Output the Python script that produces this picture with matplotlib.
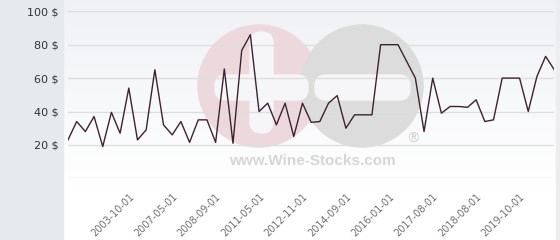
import numpy as np
import matplotlib
matplotlib.use('Agg')
import matplotlib.pyplot as plt
from matplotlib.patches import Circle, FancyBboxPatch, Rectangle

LINE_COLOR = '#3b2330'

prices = [23, 34, 28, 37, 19, 39.5, 27, 54, 23, 29,
          65, 32, 26, 34, 21.5, 35, 35, 21.5, 65.5, 21,
          76.5, 86, 40, 45, 32, 45, 25, 45, 33.5, 34,
          45, 49.5, 30, 38, 38, 38, 80, 80, 80, 70,
          60, 28, 60, 39, 43, 43, 42.5, 47, 34, 35,
          60, 60, 60, 40, 61, 73, 65]
tick_labels = ['2003-10-01', '2007-05-01', '2008-09-01', '2011-05-01',
               '2012-11-01', '2014-09-01', '2016-01-01', '2017-08-01',
               '2018-08-01', '2019-10-01']
tick_index = [7, 12, 17, 22, 27, 32, 37, 42, 47, 52]
y_ticks = [0, 20, 40, 60, 80, 100]


def main():
    W, H = 560, 240
    fig = plt.figure(figsize=(W / 100, H / 100), dpi=100)
    fig.patch.set_facecolor('white')

    # background + watermark, in pixel coordinates
    bg = fig.add_axes([0, 0, 1, 1], zorder=0)
    bg.set_xlim(0, W)
    bg.set_ylim(H, 0)
    bg.axis('off')
    grad = np.linspace(0, 1, 100).reshape(-1, 1)
    top = np.array([0.937, 0.945, 0.960])
    bottom = np.array([1.0, 1.0, 1.0])
    img = top + (bottom - top) * np.clip(grad * 1.3, 0, 1)[:, :, None] * np.ones((1, 1, 3))
    bg.imshow(img, extent=[63, 556, H, 0], aspect='auto', zorder=0)
    bg.add_patch(Rectangle((0, 0), 63, H, color='#e6eaee', zorder=1))
    bg.add_patch(Rectangle((556, 0), 4, H, color='#ededed', zorder=1))

    bg.add_patch(Circle((259, 86), 61, color='#ecd8dd', zorder=2))
    bg.add_patch(Circle((362, 86), 61, color='#dcdcdc', zorder=3))
    bar = dict(boxstyle='round,pad=0,rounding_size=11', color='#f6f6f8', zorder=4)
    bg.add_patch(FancyBboxPatch((250, 32), 23, 101, **bar))
    bg.add_patch(FancyBboxPatch((215, 75), 93, 25, **bar))
    bg.add_patch(FancyBboxPatch((315, 75), 95, 25, **bar))
    bg.text(312, 161, 'www.Wine-Stocks.com', ha='center', va='center',
            fontsize=11, fontweight='bold', family='Liberation Sans',
            color='#d6d6d6', zorder=5)
    bg.text(413, 139, '®', ha='center', va='center', fontsize=10,
            color='#d0d0d0', zorder=5)

    # chart
    left, right = 68, 554.3
    top_px, bot_px = 11.3, 178.3
    ax = fig.add_axes([left / W, 1 - bot_px / H, (right - left) / W,
                       (bot_px - top_px) / H], zorder=2)
    ax.patch.set_alpha(0)
    ax.plot(range(len(prices)), prices, '-', color=LINE_COLOR, lw=1, zorder=3)
    ax.set_xlim(0, len(prices) - 1)
    ax.set_ylim(0, 100)
    ax.set_yticks(y_ticks)
    ax.set_yticklabels(['' if v == 0 else f'{v} $' for v in y_ticks])
    ax.grid(axis='y', color='#dedede', lw=1)
    ax.set_axisbelow(True)
    ax.set_xticks(tick_index)
    ax.set_xticklabels(tick_labels, rotation=45, ha='right',
                       rotation_mode='anchor')
    ax.tick_params(axis='y', length=0, pad=6.5, labelsize=8,
                   labelcolor='#333333')
    ax.tick_params(axis='x', length=0, pad=9.5, labelsize=7,
                   labelcolor='#707070')
    for spine in ax.spines.values():
        spine.set_visible(False)

    fig.savefig('out.png', dpi=100)


if __name__ == '__main__':
    main()
